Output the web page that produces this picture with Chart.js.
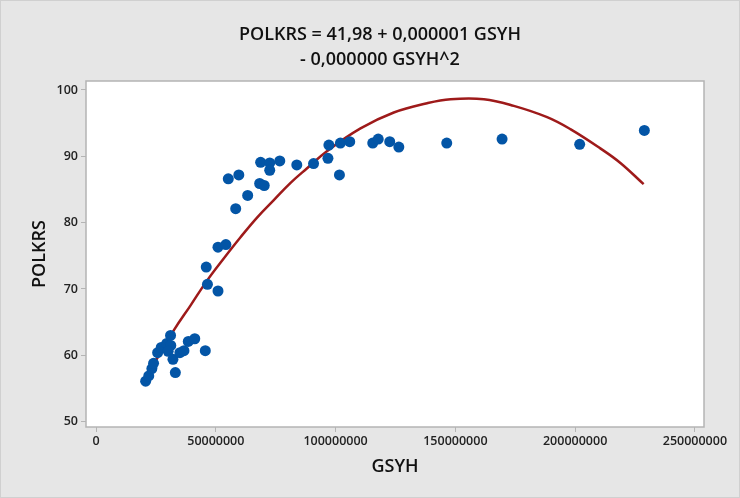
<!DOCTYPE html>
<html>
<head>
<meta charset="utf-8">
<script src="https://cdn.jsdelivr.net/npm/chart.js@4.4.0/dist/chart.umd.min.js"></script>
<style>
  html, body { margin: 0; padding: 0; background: #e6e6e6; }
  canvas { display: block; }
</style>
</head>
<body>
<canvas id="fitChart" width="740" height="498"></canvas>
<script>
// ---- data ----
const gsyh = [
  20700000, 22000000, 23300000, 24000000, 25700000, 27200000, 29500000, 31100000,
  31200000, 30100000, 32100000, 33100000, 35000000, 36700000, 38500000, 41200000,
  45600000, 46000000, 46500000, 50900000, 50900000, 54200000, 58300000, 55200000,
  59600000, 63300000, 68300000, 70200000, 68700000, 72500000, 72500000, 76700000,
  83800000, 90800000, 96800000, 97200000, 101600000, 102000000, 105900000, 115500000,
  117800000, 122600000, 126400000, 146400000, 169500000, 201900000, 228900000
];
const polkrs = [
  56.1, 56.9, 58.0, 58.8, 60.4, 61.2, 61.8, 63.0,
  61.5, 60.6, 59.4, 57.4, 60.4, 60.7, 62.1, 62.5,
  60.7, 73.3, 70.7, 69.7, 76.3, 76.7, 82.1, 86.6,
  87.2, 84.1, 85.9, 85.6, 89.1, 89.0, 87.9, 89.3,
  88.7, 88.9, 89.7, 91.7, 87.2, 92.0, 92.2, 92.0,
  92.6, 92.2, 91.4, 92.0, 92.6, 91.8, 93.9
];

// fitted curve
const fitX = [
  20700000, 24100000, 32500000, 39400000, 46400000, 53300000, 60300000, 67300000,
  74200000, 81200000, 88100000, 96500000, 110400000, 124300000, 138200000, 148000000,
  161900000, 174400000, 188300000, 198000000, 210500000, 218900000, 228600000
];
const fitY = [
  56.7, 58.7, 63.8, 67.5, 71.3, 74.6, 77.8, 80.8,
  83.4, 86.0, 88.2, 90.8, 94.2, 96.6, 98.0, 98.6,
  98.6, 97.6, 95.9, 94.1, 91.2, 89.0, 85.8
];

const xTicks = [0, 50000000, 100000000, 150000000, 200000000, 250000000];
const yTicks = [50, 60, 70, 80, 90, 100];

const titleLines = ['POLKRS = 41,98 + 0,000001 GSYH', '- 0,000000 GSYH^2'];
const xTitle = 'GSYH';
const yTitle = 'POLKRS';

const FONT = "'Open Sans', 'Noto Sans', sans-serif";

// background, frame and the two-line title
const framePlugin = {
  id: 'frame',
  beforeDraw(chart) {
    const c = chart.ctx;
    c.save();
    c.fillStyle = '#e6e6e6';
    c.fillRect(0, 0, chart.width, chart.height);
    c.strokeStyle = '#d0d0d0';
    c.lineWidth = 1;
    c.strokeRect(0.5, 0.5, chart.width - 1, chart.height - 1);
    const a = chart.chartArea;
    c.fillStyle = '#ffffff';
    c.fillRect(a.left, a.top, a.right - a.left, a.bottom - a.top);

    c.fillStyle = '#111';
    c.font = '600 18px ' + FONT;
    c.textAlign = 'center';
    c.textBaseline = 'middle';
    c.fillText(titleLines[0], 380, 35);
    c.fillText(titleLines[1], 380, 59.5);
    c.restore();
  },
  afterDatasetsDraw(chart) {
    const c = chart.ctx;
    const a = chart.chartArea;
    c.save();
    c.strokeStyle = '#b4b4b4';
    c.lineWidth = 1.5;
    c.strokeRect(a.left, a.top, a.right - a.left, a.bottom - a.top);
    c.restore();
  }
};

const ctx = document.getElementById('fitChart').getContext('2d');

new Chart(ctx, {
  type: 'scatter',
  data: {
    datasets: [
      {
        label: 'POLKRS',
        data: gsyh.map((x, i) => ({ x: x, y: polkrs[i] })),
        backgroundColor: '#0355a6',
        borderWidth: 0,
        pointRadius: 5.5,
        order: 0
      },
      {
        type: 'line',
        label: 'Fit',
        data: fitX.map((x, i) => ({ x: x, y: fitY[i] })),
        borderColor: '#9e1a1a',
        borderWidth: 2.5,
        pointRadius: 0,
        fill: false,
        tension: 0.4,
        order: 1
      }
    ]
  },
  options: {
    responsive: false,
    animation: false,
    layout: { padding: { left: 0, right: 36, top: 81, bottom: 0 } },
    plugins: {
      legend: { display: false },
      tooltip: { enabled: false }
    },
    scales: {
      x: {
        type: 'linear',
        min: -4200000,
        max: 253800000,
        afterBuildTicks: scale => { scale.ticks = xTicks.map(v => ({ value: v })); },
        afterFit: scale => { scale.height = 71; scale.paddingLeft = 0; scale.paddingRight = 0; },
        grid: { drawOnChartArea: false, tickLength: 5, tickColor: '#b4b4b4' },
        border: { display: false },
        ticks: {
          color: '#222',
          padding: 2,
          maxRotation: 0,
          autoSkip: false,
          font: { family: FONT, size: 12.5, weight: '600' },
          callback: v => String(v)
        },
        title: {
          display: true,
          text: xTitle,
          color: '#111',
          font: { family: FONT, size: 18, weight: '600' },
          padding: { top: 6, bottom: 20 }
        }
      },
      y: {
        min: 49.2,
        max: 101.35,
        afterBuildTicks: scale => { scale.ticks = yTicks.map(v => ({ value: v })); },
        afterFit: scale => { scale.width = 86; scale.paddingTop = 0; scale.paddingBottom = 0; },
        grid: { drawOnChartArea: false, tickLength: 5, tickColor: '#b4b4b4' },
        border: { display: false },
        ticks: {
          color: '#222',
          padding: 3,
          autoSkip: false,
          font: { family: FONT, size: 12.5, weight: '600' }
        },
        title: {
          display: true,
          text: yTitle,
          color: '#111',
          font: { family: FONT, size: 18, weight: '600' },
          padding: { top: 29 }
        }
      }
    }
  },
  plugins: [framePlugin]
});
</script>
</body>
</html>
